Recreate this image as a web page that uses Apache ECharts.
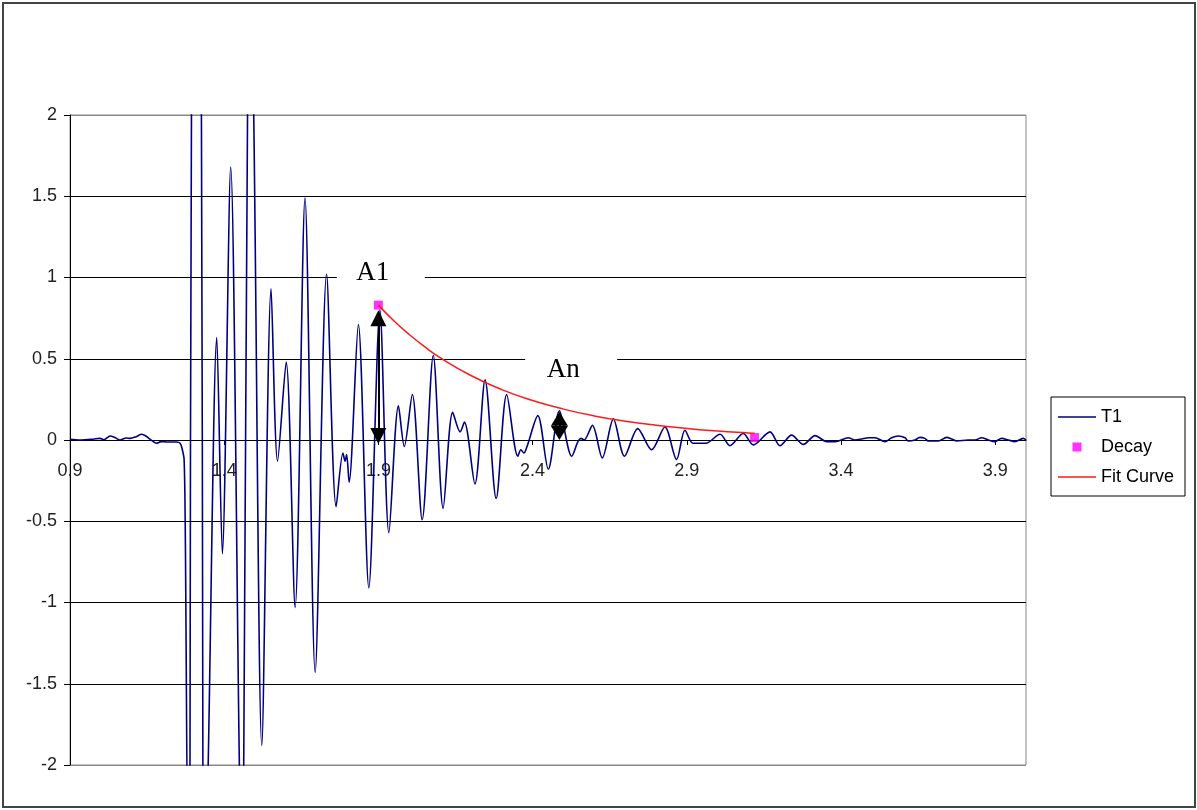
<!DOCTYPE html>
<html><head><meta charset="utf-8">
<script src="https://cdn.jsdelivr.net/npm/echarts@6/dist/echarts.min.js"></script>
<style>html,body{margin:0;padding:0;background:#fff}#c{width:1197px;height:810px}</style>
</head><body><div id="c"></div>
<script>
// ---- data ----
const t1X = [
  0.900,0.932,0.975,0.997,1.010,1.030,1.046,1.062,1.082,1.095,
  1.114,1.132,1.146,1.159,1.181,1.195,1.214,1.246,1.257,1.263,
  1.270,1.274,1.283,1.289,1.294,1.310,1.326,1.331,1.339,1.347,
  1.376,1.394,1.421,1.450,1.456,1.463,1.476,1.485,1.495,1.522,
  1.552,1.573,1.601,1.630,1.662,1.695,1.732,1.763,1.785,1.792,
  1.797,1.805,1.835,1.869,1.905,1.934,1.965,1.984,2.010,2.042,
  2.078,2.110,2.141,2.165,2.179,2.213,2.246,2.282,2.316,2.352,
  2.362,2.372,2.382,2.417,2.451,2.487,2.527,2.547,2.557,2.567,
  2.594,2.626,2.662,2.698,2.741,2.786,2.829,2.867,2.894,2.920,
  2.943,2.962,3.008,3.040,3.083,3.116,3.170,3.202,3.240,3.278,
  3.316,3.354,3.381,3.424,3.445,3.467,3.489,3.510,3.543,3.564,
  3.586,3.608,3.618,3.640,3.656,3.672,3.683,3.716,3.743,3.759,
  3.775,3.813,3.835,3.856,3.878,3.899,3.921,3.943,3.964,3.991,
  4.000
];
const t1Y = [
  0.005,0.000,0.005,0.010,0.002,0.025,0.015,0.000,0.012,0.010,
  0.020,0.035,0.025,0.005,-0.020,-0.010,-0.012,-0.012,-0.020,-0.050,
  -0.120,-0.600,-2.600,-2.100,2.100,2.700,2.100,-2.100,-2.600,-2.100,
  0.630,-0.700,1.680,-2.100,-2.500,-2.100,2.100,2.600,2.100,-1.880,
  0.930,-0.130,0.480,-1.030,1.490,-1.430,1.020,-0.410,-0.080,-0.130,
  -0.090,-0.260,0.710,-0.910,0.800,-0.570,0.210,-0.040,0.280,-0.490,
  0.520,-0.420,0.170,0.050,0.110,-0.270,0.370,-0.360,0.280,-0.100,
  -0.060,-0.080,-0.040,0.150,-0.180,0.180,-0.100,-0.010,0.010,0.000,
  0.090,-0.110,0.130,-0.100,0.070,-0.060,0.080,-0.120,0.060,-0.020,
  -0.020,-0.020,0.035,-0.035,0.040,-0.030,0.050,-0.035,0.030,-0.027,
  0.027,-0.010,-0.010,0.014,0.000,0.006,0.014,0.014,-0.010,0.014,
  0.025,0.014,-0.006,0.000,0.016,0.010,-0.006,-0.006,0.016,0.006,
  -0.006,0.000,0.000,0.014,0.000,-0.010,0.010,0.000,-0.010,0.010,
  0.000
];
const decayX = [1.900, 3.120];
const decayY = [0.830, 0.015];
const fitX = [1.90,1.95,2.00,2.05,2.10,2.20,2.30,2.40,2.50,2.60,2.70,2.80,2.90,3.00,3.10,3.12];
const fitY = [0.830,0.734,0.649,0.574,0.507,0.397,0.310,0.243,0.190,0.148,0.116,0.091,0.071,0.055,0.043,0.041];
const xTickValues = [0.9,1.4,1.9,2.4,2.9,3.4,3.9];
const seriesNames = ['T1','Decay','Fit Curve'];
const annotText = ['A1','An'];
const arrow1X = [1.900, 1.900];
const arrow1Y = [0.025, 0.750];
const arrow2X = [2.487, 2.487];
const arrow2Y = [0.043, 0.131];

const pairs = (xs, ys) => xs.map((x, i) => [x, ys[i]]);
const sansFont = 'Liberation Sans, Arial, sans-serif';
const lineIcon = 'path://M0,0 L40,0 L40,1.6 L0,1.6 Z';
const squareIcon = 'path://M0,0 L10,0 L10,10 L0,10 Z';

const chart = echarts.init(document.getElementById('c'));
chart.setOption({
  animation: false,
  backgroundColor: '#fff',
  graphic: [{
    type: 'rect', silent: true, z: -10,
    shape: { x: 3, y: 3, width: 1192, height: 804 },
    style: { fill: 'transparent', stroke: '#444', lineWidth: 2 }
  }],
  grid: { left: 70, top: 115, right: 171, bottom: 45, show: true, borderColor: '#888', borderWidth: 1 },
  legend: {
    data: [
      { name: seriesNames[0], icon: lineIcon },
      { name: seriesNames[1], icon: squareIcon },
      { name: seriesNames[2], icon: lineIcon }
    ],
    orient: 'vertical', left: 1051, top: 397,
    padding: [11, 11, 10, 7], itemWidth: 38, itemHeight: 9, itemGap: 12,
    symbolKeepAspect: true,
    borderColor: '#000', borderWidth: 1, backgroundColor: '#fff', selectedMode: false,
    textStyle: { fontFamily: sansFont, fontSize: 18, color: '#000', lineHeight: 18 }
  },
  xAxis: {
    type: 'value', min: 0.9, max: 4.0, offset: -325,
    axisLine: { show: true, onZero: false, lineStyle: { color: '#000', width: 1 } },
    axisTick: { show: true, customValues: xTickValues, length: 5, lineStyle: { color: '#000' } },
    axisLabel: { customValues: xTickValues, formatter: v => Number(v).toFixed(1), margin: 22,
      fontFamily: sansFont, fontSize: 18, color: '#222' },
    splitLine: { show: false }
  },
  yAxis: {
    type: 'value', min: -2, max: 2, interval: 0.5,
    axisLine: { show: true, onZero: false, lineStyle: { color: '#000', width: 1 } },
    axisTick: { show: true, length: 6, lineStyle: { color: '#000' } },
    axisLabel: { margin: 13, fontFamily: sansFont, fontSize: 18, color: '#222' },
    splitLine: { show: true, lineStyle: { width: 1,
      color: ['#888','#000','#000','#000','#000','#000','#000','#000','#888'] } }
  },
  series: [
    {
      type: 'line', name: 'annot', data: [], silent: true,
      markPoint: {
        silent: true, symbol: 'rect', itemStyle: { color: '#fff' },
        label: { show: true, position: 'inside', color: '#000', fontFamily: 'Liberation Serif, Times New Roman, serif', fontSize: 27 },
        data: [
          { coord: [1.908, 1.028], symbolSize: [88, 44], label: { formatter: annotText[0], offset: [-8, 0] } },
          { coord: [2.525, 0.431], symbolSize: [92, 44], label: { formatter: annotText[1], offset: [-8, 0] } }
        ]
      }
    },
    {
      type: 'line', name: 'T1', data: pairs(t1X, t1Y), symbol: 'none', showSymbol: false,
      smooth: 0.3, clip: true,
      lineStyle: { color: '#000080', width: 1.6 }, itemStyle: { color: '#000080' }
    },
    {
      type: 'line', name: 'Fit Curve', data: pairs(fitX, fitY), symbol: 'none', showSymbol: false,
      smooth: true, lineStyle: { color: '#ff1a1a', width: 1.5 }, itemStyle: { color: '#ff1a1a' }
    },
    {
      type: 'scatter', name: 'Decay', data: pairs(decayX, decayY), symbol: 'rect', symbolSize: 9,
      itemStyle: { color: '#ff00ff' }
    },
    {
      type: 'line', name: 'arrow1', data: [], silent: true,
      markLine: {
        silent: true, symbol: ['triangle', 'triangle'], symbolSize: [16, 16],
        label: { show: false }, lineStyle: { color: '#000', width: 2, type: 'solid' },
        data: [[{ coord: [arrow1X[0], arrow1Y[0]] }, { coord: [arrow1X[1], arrow1Y[1]] }]]
      }
    },
    {
      type: 'line', name: 'arrow2', data: [], silent: true,
      markLine: {
        silent: true, symbol: ['triangle', 'triangle'], symbolSize: [17, 14],
        label: { show: false }, lineStyle: { color: '#000', width: 2, type: 'solid' },
        data: [[{ coord: [arrow2X[0], arrow2Y[0]] }, { coord: [arrow2X[1], arrow2Y[1]] }]]
      }
    }
  ]
});
</script></body></html>
